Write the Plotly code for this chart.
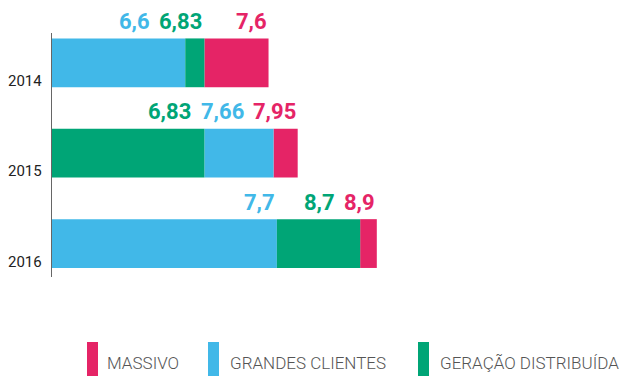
import plotly.graph_objects as go

# Scores per customer segment and year
years = ["2014", "2015", "2016"]
massivo = [7.6, 7.95, 8.9]
grandes_clientes = [6.6, 7.66, 7.7]
geracao_distribuida = [6.83, 6.83, 8.7]

series = [
    ("MASSIVO", massivo, "#E52466"),
    ("GRANDES CLIENTES", grandes_clientes, "#41B8E8"),
    ("GERAÇÃO DISTRIBUÍDA", geracao_distribuida, "#00A576"),
]

# Canvas / plot-area geometry (pixels)
W, H = 630, 376
M_L, M_R, M_T, M_B = 52, 20, 33, 99
PLOT_W = W - M_L - M_R
PLOT_H = H - M_T - M_B
X0, X1 = 5.0, 11.7


def to_px(v):
    return (v - X0) / (X1 - X0) * PLOT_W


def px_x(p):
    return (p - M_L) / PLOT_W


def px_y(p):
    return (H - M_B - p) / PLOT_H


def fmt(v):
    return f"{v:g}".replace(".", ",")


fig = go.Figure()

# Each segment starts where the next-lower value of the same year ends
for name, vals, color in series:
    bases = []
    for i in range(len(years)):
        lower = [s[1][i] for s in series if s[1][i] < vals[i]]
        bases.append(max(lower) if lower else 0)
    fig.add_trace(go.Bar(
        y=years, x=[v - b for v, b in zip(vals, bases)], base=bases,
        orientation="h", name=name, marker=dict(color=color, line=dict(width=0)),
        width=0.54, showlegend=False,
        hovertemplate=name + ": %{customdata}<extra></extra>",
        customdata=[fmt(v) for v in vals],
    ))

annotations = []

# Value labels, right-aligned at each segment end, nudged left if they collide
VAL_FONT = "Roboto, Liberation Sans, sans-serif"
VAL_SIZE = 22
GAP = 10


def label_width(t):
    # Roboto Bold advances: digits ~0.562em, comma ~0.23em
    return sum((0.23 if c == "," else 0.562) * VAL_SIZE for c in t)


for i, yr in enumerate(years):
    items = sorted(((s[1][i], s[2]) for s in series), key=lambda t: -t[0])
    prev_left = None
    for v, color in items:
        txt = fmt(v)
        right = to_px(v)
        if prev_left is not None:
            right = min(right, prev_left - GAP)
        prev_left = right - label_width(txt)
        annotations.append(dict(
            x=v, y=i, xref="x", yref="y", text=f"<b>{txt}</b>",
            showarrow=False, xanchor="right", yanchor="bottom",
            xshift=right - to_px(v), yshift=27,
            font=dict(family=VAL_FONT, size=VAL_SIZE, color=color),
        ))

# Year labels, sitting low beside each bar
for i, yr in enumerate(years):
    annotations.append(dict(
        x=0, y=i, xref="paper", yref="y", text=yr, showarrow=False,
        xanchor="right", yanchor="middle", xshift=-8, yshift=-18,
        font=dict(family="Roboto, sans-serif", size=15, color="#222222"),
    ))

# Legend: tall colour bars with captions underneath the chart
shapes = []
legend_pos = [(87, 105), (208, 228), (418, 438)]
for (name, _, color), (rx, tx) in zip(series, legend_pos):
    shapes.append(dict(
        type="rect", xref="paper", yref="paper",
        x0=px_x(rx), x1=px_x(rx + 11), y0=px_y(342), y1=px_y(376),
        fillcolor=color, line=dict(width=0), layer="above",
    ))
    annotations.append(dict(
        x=px_x(tx), y=px_y(363), xref="paper", yref="paper", text=name,
        showarrow=False, xanchor="left", yanchor="middle",
        font=dict(family="Roboto, sans-serif", size=17, color="#555555", weight=300),
    ))

fig.update_layout(
    width=W, height=H,
    margin=dict(l=M_L, r=M_R, t=M_T, b=M_B, pad=0),
    paper_bgcolor="white", plot_bgcolor="white",
    barmode="overlay",
    xaxis=dict(range=[X0, X1], visible=False, fixedrange=True),
    yaxis=dict(
        type="category", categoryorder="array", categoryarray=years,
        range=[2.37, -0.33], showticklabels=False, ticks="",
        showgrid=False, zeroline=False,
        showline=True, linecolor="#666666", linewidth=1, fixedrange=True,
    ),
    annotations=annotations, shapes=shapes,
)

fig.write_html("out.html")
